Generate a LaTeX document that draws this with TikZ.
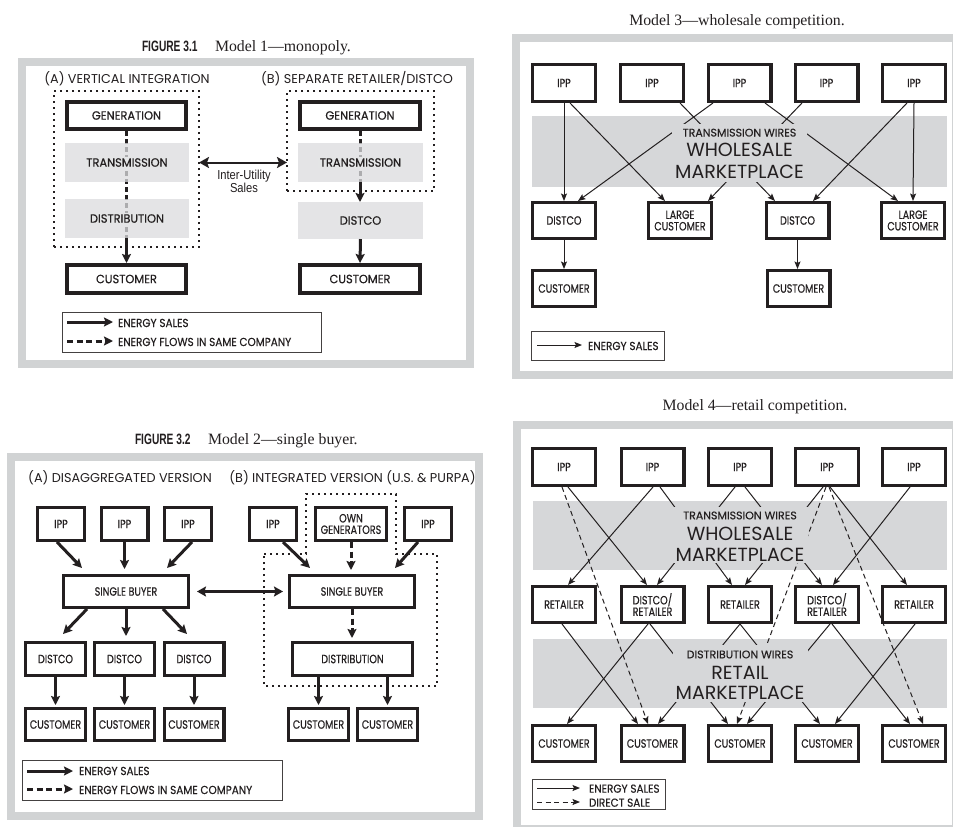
\documentclass[tikz,border=0pt]{standalone}
\usepackage{fontspec}
\setmainfont{Liberation Serif}
\newfontfamily\geofont{Poppins}
\newfontfamily\geoboxA[FakeStretch=0.95,FakeBold=0.4]{Poppins}
\newfontfamily\geocond[FakeStretch=0.8,FakeBold=0.4]{Poppins}
\newfontfamily\geolegend[FakeStretch=0.9,FakeBold=0.3]{Poppins}
\newfontfamily\geowires[FakeBold=0.3]{Poppins}
\newfontfamily\figfont[FakeStretch=0.68]{Liberation Sans}
\newfontfamily\narrowfont[FakeStretch=0.86]{Liberation Sans}
\usetikzlibrary{arrows.meta}
\definecolor{ink}{RGB}{35,31,32}
\definecolor{framegray}{RGB}{209,211,212}
\definecolor{bandgray}{RGB}{214,215,217}
\definecolor{boxgray}{RGB}{228,229,230}
\definecolor{shadefill}{RGB}{219,220,222}
\newcommand\kbox{\geoboxA\fontsize{12}{12}\selectfont}
\newcommand\kboxn{\geocond\fontsize{12}{11.5}\selectfont}
\newcommand\klegend{\geolegend\fontsize{11.6}{11.6}\selectfont}
\newcommand\khead{\geofont\fontsize{12.8}{12.8}\selectfont}
\newcommand\kwires{\geowires\fontsize{11}{11}\selectfont}
\newcommand\kmarket{\geofont\fontsize{19}{19}\selectfont}
\newcommand\ktitle{\fontsize{15.8}{15.8}\selectfont}
\newcommand\kfig{\figfont\bfseries\fontsize{15}{15}\selectfont}
\newcommand\knarrow{\narrowfont\fontsize{13}{12}\selectfont}
\newcommand\onshade[1]{{\setlength{\fboxsep}{1.5pt}\colorbox{boxgray}{#1}}}
\pgfdeclarelayer{bg}
\pgfdeclarelayer{lines}
\pgfsetlayers{bg,lines,main}
\begin{document}
\begin{tikzpicture}[x=1pt,y=-1pt,
  every node/.style={inner sep=0pt, outer sep=0pt, text=ink},
  panel/.style={draw=framegray, line width=8pt},
  dotframe/.style={draw=ink, line width=1.8pt, dash pattern=on 1.8pt off 4.2pt},
  blk/.style n args={2}{draw=ink, fill=white, line width=3.2pt, outer sep=1.6pt,
    minimum width=#1pt-3.2pt, minimum height=#2pt-3.2pt, align=center, font=\kboxn},
  blkA/.style n args={2}{draw=ink, fill=white, line width=3.8pt, outer sep=1.9pt,
    minimum width=#1pt-3.8pt, minimum height=#2pt-3.8pt, align=center, font=\kbox},
  grayslab/.style n args={2}{fill=shadefill, fill opacity=0.75, text opacity=1,
    minimum width=#1pt, minimum height=#2pt, font=\kbox},
  bandbox/.style n args={2}{fill=bandgray, minimum width=#1pt, minimum height=#2pt},
  legendbox/.style n args={2}{draw=ink!85, line width=0.8pt, minimum width=#1pt, minimum height=#2pt},
  bigtip/.style={-{Stealth[length=9pt,width=9pt,inset=1.5pt]}},
  sale/.style={draw=ink, line width=3pt, bigtip},
  flow/.style={sale, dash pattern=on 6pt off 3.5pt},
  flowline/.style={draw=ink, line width=3pt, dash pattern=on 5pt off 3pt},
  thinsale/.style={draw=ink, line width=1pt, -{Stealth[length=7.5pt,width=6pt,inset=1.5pt]}},
  thindirect/.style={thinsale, dash pattern=on 5pt off 3.5pt},
  twoway/.style={draw=ink, line width=2pt,
    {Stealth[length=10pt,width=11pt,inset=2pt]}-{Stealth[length=10pt,width=11pt,inset=2pt]}},
  twowaybig/.style={draw=ink, line width=3pt,
    {Stealth[length=9pt,width=10pt,inset=1.5pt]}-{Stealth[length=9pt,width=10pt,inset=1.5pt]}},
  lbl/.style={font=\klegend, anchor=base west},
  hdr/.style={font=\khead, anchor=base}]
\useasboundingbox (0,0) rectangle (953,827);
\begin{pgfonlayer}{bg}
  \fill[white] (0,0) rectangle (953,827);
\end{pgfonlayer}

% ---------------- Figure 3.1: Model 1, monopoly ----------------
\node[font=\kfig, anchor=base west] (m1fig) at (142,51.5) {FIGURE 3.1};
\node[font=\ktitle, anchor=base west] (m1cap) at (215,51.5) {Model 1—monopoly.};
\begin{pgfonlayer}{bg}
  \draw[panel] (21.5,62) rectangle (469.5,363.5);
  \node[dotframe, minimum width=145pt, minimum height=156pt] (m1boxA) at (126.5,169) {};
  \node[dotframe, minimum width=147pt, minimum height=100pt] (m1boxB) at (360.5,141) {};
\end{pgfonlayer}
\node[hdr] (m1hdrA) at (127,83) {(A) VERTICAL INTEGRATION};
\node[hdr] (m1hdrB) at (357,83) {(B) SEPARATE RETAILER/DISTCO};
\node[blkA={123}{31}] (m1genA) at (126.5,115.5) {GENERATION};
\node[grayslab={124}{39}] (m1transA) at (127,162.5) {\onshade{TRANSMISSION}};
\node[grayslab={124}{39}] (m1distA) at (127,218.5) {\onshade{DISTRIBUTION}};
\node[blkA={123}{32}] (m1custA) at (126.5,279) {CUSTOMER};
\node[blkA={124}{31}] (m1genB) at (360,115.5) {GENERATION};
\node[grayslab={125}{39}] (m1transB) at (360.5,162.5) {\onshade{TRANSMISSION}};
\node[grayslab={125}{37}] (m1distcoB) at (360.5,220.5) {\onshade{DISTCO}};
\node[blkA={124}{32}] (m1custB) at (360,279) {CUSTOMER};
\node[font=\knarrow, align=center] (m1iu) at (244,181) {Inter-Utility\\Sales};
\node[legendbox={259}{40}] (m1key) at (191.5,332) {};
\coordinate (m1k1a) at (67,322);
\coordinate (m1k1b) at (113,322);
\coordinate (m1k2a) at (67,341);
\coordinate (m1k2b) at (113,341);
\node[lbl] (m1k1t) at (118,327) {ENERGY SALES};
\node[lbl] (m1k2t) at (118,346) {ENERGY FLOWS IN SAME COMPANY};
\begin{pgfonlayer}{lines}
  \draw[flowline] (m1genA.south) -- (m1genA.south |- m1distA.south);
  \draw[sale] (m1genA.south |- m1distA.south) -- (m1custA.north);
  \draw[flowline] (m1genB.south) -- (m1genB.south |- m1transB.south);
  \draw[sale] (m1genB.south |- m1transB.south) -- (m1genB.south |- m1distcoB.north);
  \draw[sale] (m1distcoB.south) -- (m1custB.north);
  \draw[twoway] (m1boxA.east |- m1transA.center) -- (m1boxB.west |- m1transB.center);
  \draw[sale] (m1k1a) -- (m1k1b);
  \draw[flow] (m1k2a) -- (m1k2b);
\end{pgfonlayer}

% ---------------- Figure 3.2: Model 2, single buyer ----------------
\node[font=\kfig, anchor=base west] (m2fig) at (135,444.5) {FIGURE 3.2};
\node[font=\ktitle, anchor=base west] (m2cap) at (208,444.5) {Model 2—single buyer.};
\begin{pgfonlayer}{bg}
  \draw[panel] (11,457) rectangle (479,816);
  \draw[dotframe] (264,554) -- (306,554) -- (306,494) -- (396,494) -- (396,554)
    -- (437,554) -- (437,686) -- (264,686) -- cycle;
\end{pgfonlayer}
\node[hdr] (m2hdrA) at (120,482.5) {(A) DISAGGREGATED VERSION};
\node[hdr] (m2hdrB) at (352.5,482.5) {(B) INTEGRATED VERSION (U.S. \& PURPA)};
\node[blk={50}{36}] (m2ipp1) at (61,524) {IPP};
\node[blk={50}{36}] (m2ipp2) at (124.5,524) {IPP};
\node[blk={50}{36}] (m2ipp3) at (188,524) {IPP};
\node[blk={50}{36}] (m2ipp4) at (273,524) {IPP};
\node[blk={74}{36}] (m2own) at (351,524) {OWN\\GENERATORS};
\node[blk={50}{36}] (m2ipp5) at (428,524) {IPP};
\node[blk={128}{35}] (m2sbA) at (126,591.5) {SINGLE BUYER};
\node[blk={128}{35}] (m2sbB) at (352,591.5) {SINGLE BUYER};
\node[blk={63}{36}] (m2dist1) at (55.5,659) {DISTCO};
\node[blk={63}{36}] (m2dist2) at (124.5,659) {DISTCO};
\node[blk={63}{36}] (m2dist3) at (194,659) {DISTCO};
\node[blk={123}{36}] (m2distr) at (352.5,659) {DISTRIBUTION};
\node[blk={63}{35}] (m2cust1) at (55.5,724.5) {CUSTOMER};
\node[blk={63}{35}] (m2cust2) at (124.5,724.5) {CUSTOMER};
\node[blk={63}{35}] (m2cust3) at (194,724.5) {CUSTOMER};
\node[blk={63}{35}] (m2cust4) at (318.5,724.5) {CUSTOMER};
\node[blk={63}{35}] (m2cust5) at (387.5,724.5) {CUSTOMER};
\node[legendbox={260}{40}] (m2key) at (152,780) {};
\coordinate (m2k1a) at (27,771);
\coordinate (m2k1b) at (73,771);
\coordinate (m2k2a) at (27,789);
\coordinate (m2k2b) at (73,789);
\node[lbl] (m2k1t) at (79,775) {ENERGY SALES};
\node[lbl] (m2k2t) at (79,794) {ENERGY FLOWS IN SAME COMPANY};
\begin{pgfonlayer}{lines}
  \draw[sale] ([xshift=-4pt]m2ipp1.south) -- ([xshift=-44pt,yshift=6pt]m2sbA.north);
  \draw[sale, shorten >=5pt] (m2ipp2.south) -- (m2ipp2.south |- m2sbA.north);
  \draw[sale] ([xshift=4pt]m2ipp3.south) -- ([xshift=41pt,yshift=6pt]m2sbA.north);
  \draw[sale] ([xshift=-39pt]m2sbA.south) -- ([xshift=7.5pt,yshift=7pt]m2dist1.north);
  \draw[sale, shorten >=5pt] (m2sbA.south) -- (m2sbA.south |- m2dist2.north);
  \draw[sale] ([xshift=37pt]m2sbA.south) -- ([xshift=-7pt,yshift=7pt]m2dist3.north);
  \draw[sale, shorten >=2pt] (m2dist1.south) -- (m2cust1.north);
  \draw[sale, shorten >=2pt] (m2dist2.south) -- (m2cust2.north);
  \draw[sale, shorten >=2pt] (m2dist3.south) -- (m2cust3.north);
  \draw[sale] ([xshift=10pt]m2ipp4.south) -- ([xshift=-42pt,yshift=6pt]m2sbB.north);
  \draw[sale] ([xshift=-10pt]m2ipp5.south) -- ([xshift=43pt,yshift=6pt]m2sbB.north);
  \draw[flow, shorten >=4pt] (m2own.south) -- (m2own.south |- m2sbB.north);
  \draw[flow, shorten >=3pt] (m2sbB.south) -- (m2sbB.south |- m2distr.north);
  \draw[sale, shorten >=2pt] (m2distr.south -| m2cust4.north) -- (m2cust4.north);
  \draw[sale, shorten >=2pt] (m2distr.south -| m2cust5.north) -- (m2cust5.north);
  \draw[twowaybig, shorten <=7pt, shorten >=5pt] (m2sbA.east) -- (m2sbB.west);
  \draw[sale] (m2k1a) -- (m2k1b);
  \draw[flow] (m2k2a) -- (m2k2b);
\end{pgfonlayer}

% ---------------- Model 3, wholesale competition ----------------
\node[font=\ktitle, anchor=base] (m3cap) at (737,25) {Model 3—wholesale competition.};
\begin{pgfonlayer}{bg}
  \draw[panel] (516,37.5) rectangle (956,374.5);
  \node[bandbox={415}{71}] (m3band) at (739.5,151.5) {};
\end{pgfonlayer}
\node[blk={66}{40}] (m3ipp1) at (564,83) {IPP};
\node[blk={66}{40}] (m3ipp2) at (652,83) {IPP};
\node[blk={66}{40}] (m3ipp3) at (739.5,83) {IPP};
\node[blk={66}{40}] (m3ipp4) at (826.5,83) {IPP};
\node[blk={66}{40}] (m3ipp5) at (914,83) {IPP};
\node[bandbox={135}{58}] (m3hub) at (739.5,153) {};
\node[font=\kwires, anchor=base] (m3wires) at (739.5,136.5) {TRANSMISSION WIRES};
\node[font=\kmarket, anchor=base] (m3whole) at (739.5,156.7) {WHOLESALE};
\node[font=\kmarket, anchor=base] (m3mkt) at (739.5,178.3) {MARKETPLACE};
\node[blk={66}{39}] (m3dist1) at (564,220.5) {DISTCO};
\node[blk={66}{39}] (m3large1) at (680,220.5) {LARGE\\CUSTOMER};
\node[blk={66}{39}] (m3dist2) at (797.5,220.5) {DISTCO};
\node[blk={66}{39}] (m3large2) at (913,220.5) {LARGE\\CUSTOMER};
\node[blk={66}{39}] (m3cust1) at (564,288.5) {CUSTOMER};
\node[blk={66}{39}] (m3cust2) at (798.5,288.5) {CUSTOMER};
\node[legendbox={133}{29}] (m3key) at (597.5,345.5) {};
\coordinate (m3k1a) at (537,345);
\coordinate (m3k1b) at (582,345);
\node[lbl] (m3k1t) at (588,350) {ENERGY SALES};
\begin{pgfonlayer}{lines}
  \draw[thinsale] (m3ipp1.south) -- (m3dist1.north);
  \draw[thinsale] ([xshift=6pt]m3ipp1.south) -- ([xshift=-15pt]m3large1.north);
  \draw[thinsale] ([xshift=28pt]m3ipp2.south) -- ([xshift=-22.5pt]m3dist2.north);
  \draw[thinsale] ([xshift=-26.5pt]m3ipp3.south) -- ([xshift=14pt]m3dist1.north);
  \draw[thinsale] ([xshift=25.5pt]m3ipp3.south) -- ([xshift=-15pt]m3large2.north);
  \draw[thinsale] ([xshift=-24.5pt]m3ipp4.south) -- ([xshift=28pt]m3large1.north);
  \draw[thinsale] ([xshift=-7pt]m3ipp5.south) -- ([xshift=15.5pt]m3dist2.north);
  \draw[thinsale] (m3ipp5.south) -- (m3large2.north);
  \draw[thinsale] (m3dist1.south) -- (m3cust1.north);
  \draw[thinsale] (m3dist2.south) -- (m3dist2.south |- m3cust2.north);
  \draw[thinsale] (m3k1a) -- (m3k1b);
\end{pgfonlayer}

% ---------------- Model 4, retail competition ----------------
\node[font=\ktitle, anchor=base] (m4cap) at (755,410.7) {Model 4—retail competition.};
\begin{pgfonlayer}{bg}
  \draw[panel] (517,425) rectangle (956,829);
  \node[bandbox={414}{69}] (m4band1) at (740,535.5) {};
  \node[bandbox={414}{69}] (m4band2) at (740,673.5) {};
\end{pgfonlayer}
\node[blk={66}{40}] (m4ipp1) at (564,467) {IPP};
\node[blk={66}{40}] (m4ipp2) at (652.5,467) {IPP};
\node[blk={66}{40}] (m4ipp3) at (740,467) {IPP};
\node[blk={66}{40}] (m4ipp4) at (827,467) {IPP};
\node[blk={66}{40}] (m4ipp5) at (914,467) {IPP};
\node[bandbox={136}{56}] (m4hub1) at (740,534.5) {};
\node[font=\kwires, anchor=base] (m4wires1) at (740,519.3) {TRANSMISSION WIRES};
\node[font=\kmarket, anchor=base] (m4whole) at (740,540.7) {WHOLESALE};
\node[font=\kmarket, anchor=base] (m4mkt1) at (740,561) {MARKETPLACE};
\node[blk={66}{39}] (m4ret1) at (564,604.5) {RETAILER};
\node[blk={66}{39}] (m4dr1) at (652.5,604.5) {DISTCO/\\RETAILER};
\node[blk={66}{39}] (m4ret2) at (740,604.5) {RETAILER};
\node[blk={66}{39}] (m4dr2) at (827,604.5) {DISTCO/\\RETAILER};
\node[blk={66}{39}] (m4ret3) at (914,604.5) {RETAILER};
\node[bandbox={135}{57}] (m4hub2) at (740.5,673.5) {};
\node[font=\kwires, anchor=base] (m4wires2) at (740,658.3) {DISTRIBUTION WIRES};
\node[font=\kmarket, anchor=base] (m4retail) at (740,679.3) {RETAIL};
\node[font=\kmarket, anchor=base] (m4mkt2) at (740,699.3) {MARKETPLACE};
\node[blk={66}{39}] (m4cust1) at (564,743.5) {CUSTOMER};
\node[blk={66}{39}] (m4cust2) at (652.5,743.5) {CUSTOMER};
\node[blk={66}{39}] (m4cust3) at (740,743.5) {CUSTOMER};
\node[blk={66}{39}] (m4cust4) at (827,743.5) {CUSTOMER};
\node[blk={66}{39}] (m4cust5) at (914,743.5) {CUSTOMER};
\node[legendbox={133}{30}] (m4key) at (598.5,794) {};
\coordinate (m4k1a) at (537,788);
\coordinate (m4k1b) at (580,788);
\coordinate (m4k2a) at (537,802);
\coordinate (m4k2b) at (580,802);
\node[lbl] (m4k1t) at (589,792.7) {ENERGY SALES};
\node[lbl] (m4k2t) at (589,806.7) {DIRECT SALE};
\begin{pgfonlayer}{lines}
  % generators to retailers, through the wholesale market
  \draw[thinsale] ([xshift=4pt]m4ipp1.south) -- ([xshift=-5.5pt]m4dr1.north);
  \draw[thinsale] ([xshift=0.5pt]m4ipp2.south) -- ([xshift=4pt]m4ret1.north);
  \draw[thinsale] ([xshift=7.5pt]m4ipp2.south) -- ([xshift=-8pt]m4ret2.north);
  \draw[thinsale] ([xshift=-5pt]m4ipp3.south) -- ([xshift=4.5pt]m4dr1.north);
  \draw[thinsale] ([xshift=5pt]m4ipp3.south) -- ([xshift=-5pt]m4dr2.north);
  \draw[thinsale] ([xshift=-4pt]m4ipp4.south) -- ([xshift=5pt]m4ret2.north);
  \draw[thinsale] ([xshift=3pt]m4ipp4.south) -- ([xshift=-7pt]m4ret3.north);
  \draw[thinsale] ([xshift=-4pt]m4ipp5.south) -- ([xshift=6pt]m4dr2.north);
  % retailers to customers, through the retail market
  \draw[thinsale] ([xshift=-2pt]m4ret1.south) -- ([xshift=-14.5pt]m4cust2.north);
  \draw[thinsale] ([xshift=-4.5pt]m4dr1.south) -- ([xshift=3pt]m4cust1.north);
  \draw[thinsale] ([xshift=-2.5pt]m4dr1.south) -- ([xshift=-12pt]m4cust3.north);
  \draw[thinsale] (m4ret2.south) -- ([xshift=5.5pt]m4cust2.north);
  \draw[thinsale] (m4ret2.south) -- ([xshift=-7pt]m4cust4.north);
  \draw[thinsale] ([xshift=3pt]m4dr2.south) -- ([xshift=7pt]m4cust3.north);
  \draw[thinsale] ([xshift=5pt]m4dr2.south) -- ([xshift=-4pt]m4cust5.north);
  \draw[thinsale] ([xshift=1pt]m4ret3.south) -- ([xshift=8pt]m4cust4.north);
  % direct sales from generators to customers
  \draw[thindirect] ([xshift=-2pt]m4ipp1.south) -- ([xshift=-4.5pt]m4cust2.north);
  \draw[thindirect] ([xshift=-1pt]m4ipp4.south) -- ([xshift=-3pt]m4cust3.north);
  \draw[thindirect] ([xshift=2pt]m4ipp4.south) -- ([xshift=9pt]m4cust5.north);
  \draw[thinsale] (m4k1a) -- (m4k1b);
  \draw[thindirect] (m4k2a) -- (m4k2b);
\end{pgfonlayer}
\end{tikzpicture}
\end{document}
